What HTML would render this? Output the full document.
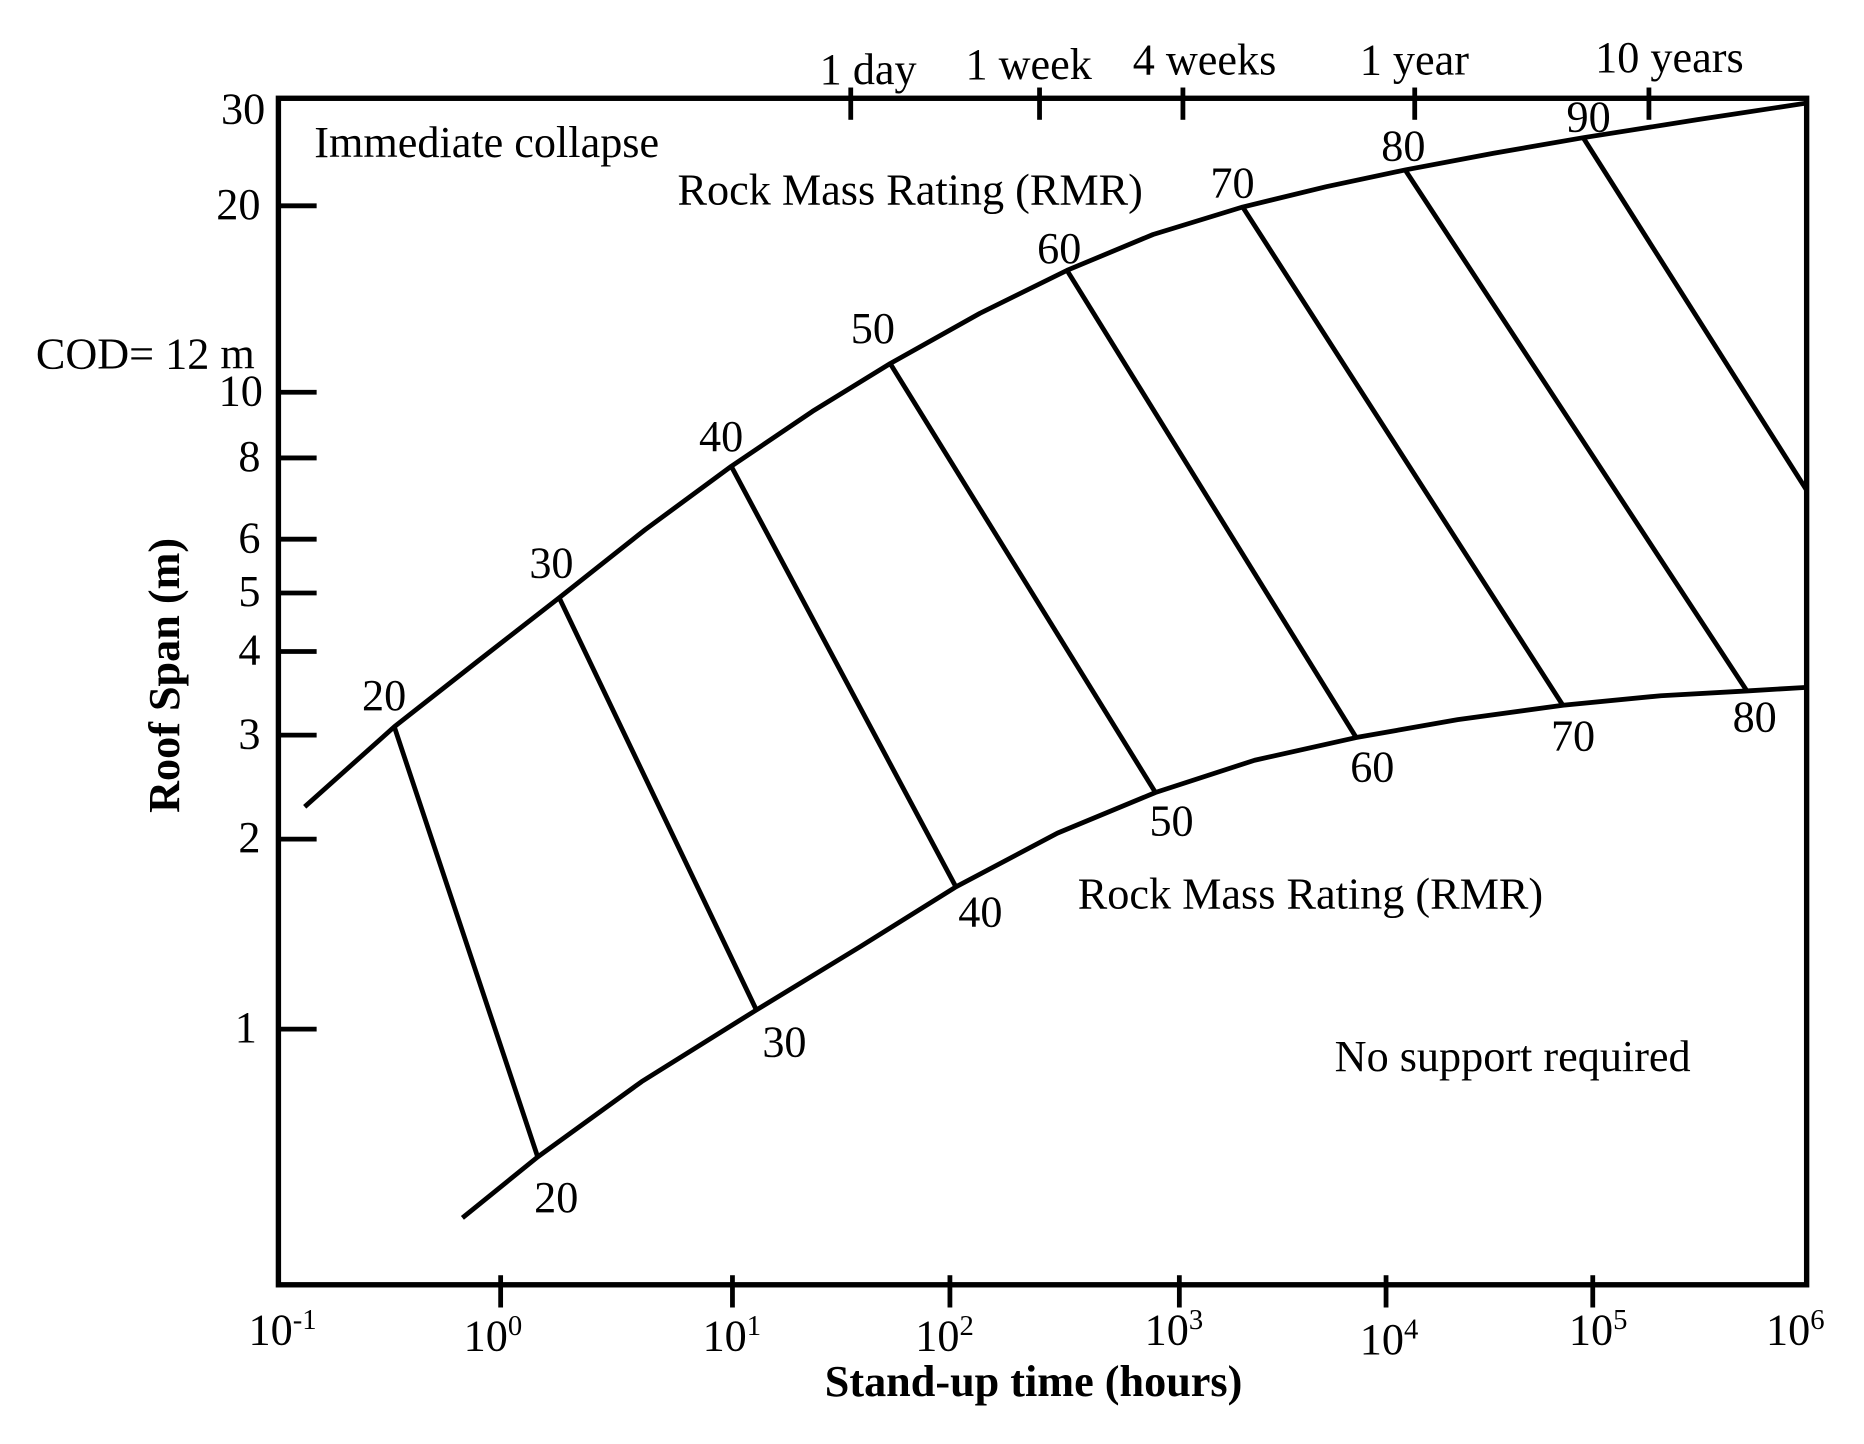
<!DOCTYPE html>
<html><head><style>html,body{margin:0;padding:0;background:#fff}svg{display:block}</style></head>
<body>
<svg width="1864" height="1444" viewBox="0 0 1560 1208" xmlns="http://www.w3.org/2000/svg" font-family="Liberation Serif, serif" fill="#000">
<rect x="233" y="82" width="1279" height="993" fill="none" stroke="#000" stroke-width="4.5"/>
<g stroke="#000" stroke-width="4">
<line x1="419" y1="1067" x2="419" y2="1094"/><line x1="613" y1="1067" x2="613" y2="1094"/><line x1="795" y1="1067" x2="795" y2="1094"/><line x1="987" y1="1067" x2="987" y2="1094"/><line x1="1160" y1="1067" x2="1160" y2="1094"/><line x1="1333" y1="1067" x2="1333" y2="1094"/>
<line x1="712" y1="73" x2="712" y2="100"/><line x1="870" y1="73" x2="870" y2="100"/><line x1="990" y1="73" x2="990" y2="100"/><line x1="1184" y1="73" x2="1184" y2="100"/><line x1="1380" y1="73" x2="1380" y2="100"/>
<line x1="233" y1="172" x2="265" y2="172"/><line x1="233" y1="328" x2="265" y2="328"/><line x1="233" y1="383" x2="265" y2="383"/><line x1="233" y1="451" x2="265" y2="451"/><line x1="233" y1="496" x2="265" y2="496"/><line x1="233" y1="545" x2="265" y2="545"/><line x1="233" y1="615" x2="265" y2="615"/><line x1="233" y1="702" x2="265" y2="702"/><line x1="233" y1="861" x2="265" y2="861"/>
</g>
<g fill="none" stroke="#000" stroke-width="4" stroke-linejoin="round">
<polyline points="255,675 330,608 400,553 468,500 540,443 612,390 680,344 745,304 820,262 893,226 965,196 1040,173 1110,156 1176,142 1250,128 1325,115 1420,100 1512,86"/>
<polyline points="387,1019 450,968 537,905 633,845 720,792 800,742 885,697 967,663 1050,636 1135,617 1220,602 1308,590 1390,582 1462,578 1512,575"/>
<line x1="330" y1="608" x2="450" y2="968"/><line x1="468" y1="500" x2="633" y2="845"/><line x1="612" y1="390" x2="800" y2="742"/><line x1="745" y1="304" x2="967" y2="663"/><line x1="893" y1="226" x2="1135" y2="617"/><line x1="1040" y1="173" x2="1308" y2="590"/><line x1="1176" y1="142" x2="1462" y2="578"/><line x1="1325" y1="115" x2="1512" y2="410"/>
</g>
<g font-size="37" text-anchor="end">
<text x="222" y="103">30</text><text x="218" y="183">20</text><text x="220" y="339">10</text><text x="218" y="394">8</text><text x="218" y="462">6</text><text x="218" y="507">5</text><text x="218" y="556">4</text><text x="218" y="626">3</text><text x="218" y="713">2</text><text x="215" y="872">1</text>
</g>
<text x="30" y="308" font-size="37">COD= 12 m</text>
<g font-size="37">
<text x="208" y="1125">10<tspan font-size="24" dy="-13">-1</tspan></text>
<text x="388" y="1130">10<tspan font-size="24" dy="-13">0</tspan></text>
<text x="588" y="1130">10<tspan font-size="24" dy="-13">1</tspan></text>
<text x="766" y="1130">10<tspan font-size="24" dy="-13">2</tspan></text>
<text x="958" y="1125">10<tspan font-size="24" dy="-13">3</tspan></text>
<text x="1138" y="1133">10<tspan font-size="24" dy="-13">4</tspan></text>
<text x="1313" y="1125">10<tspan font-size="24" dy="-13">5</tspan></text>
<text x="1478" y="1125">10<tspan font-size="24" dy="-13">6</tspan></text>
<text x="686" y="70">1 day</text><text x="808" y="66">1 week</text><text x="948" y="62">4 weeks</text><text x="1138" y="62">1 year</text><text x="1335" y="60">10 years</text>
<text x="263" y="131">Immediate collapse</text>
<text x="567" y="171">Rock Mass Rating (RMR)</text>
<text x="902" y="760">Rock Mass Rating (RMR)</text>
<text x="1117" y="896">No support required</text>
<text x="303" y="594">20</text><text x="443" y="483">30</text><text x="585" y="377">40</text><text x="712" y="287">50</text><text x="868" y="220">60</text><text x="1013" y="165">70</text><text x="1156" y="134">80</text><text x="1311" y="110">90</text>
<text x="447" y="1014">20</text><text x="638" y="884">30</text><text x="802" y="775">40</text><text x="962" y="699">50</text><text x="1130" y="654">60</text><text x="1298" y="628">70</text><text x="1450" y="612">80</text>
</g>
<text x="865" y="1168" font-size="37" font-weight="bold" text-anchor="middle">Stand-up time (hours)</text>
<text transform="translate(150,565) rotate(-90)" font-size="37" font-weight="bold" text-anchor="middle">Roof Span (m)</text>
</svg>
</body></html>
